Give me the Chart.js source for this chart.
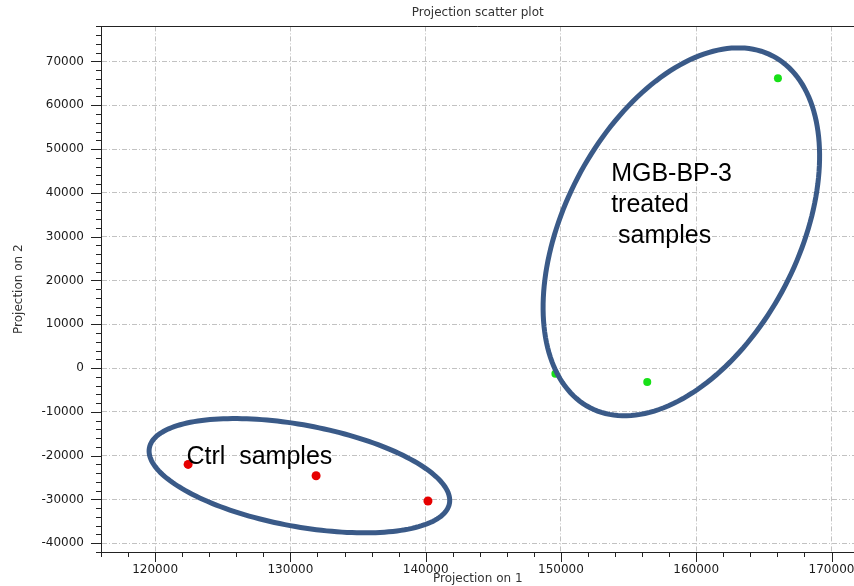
<!DOCTYPE html>
<html>
<head>
<meta charset="utf-8">
<script src="https://cdn.jsdelivr.net/npm/chart.js@4.4.0/dist/chart.umd.min.js"></script>
<style>
html, body { margin: 0; padding: 0; background: #fff; overflow: hidden; }
canvas { display: block; }
</style>
</head>
<body>
<!-- 5px wider than the window: chart.js keeps a 5px strip on the right, this pushes it out of view -->
<canvas id="canvas" width="859" height="586"></canvas>
<script>
// sample positions
const ctrlX = [122440, 131900, 140170]
const ctrlY = [-22000, -24580, -30350]
const treatedX = [166040, 149590, 156380]
const treatedY = [66180, -1300, -3200]

const xTickLabels = [120000, 130000, 140000, 150000, 160000, 170000]
const yTickLabels = [-40000, -30000, -20000, -10000, 0, 10000, 20000, 30000, 40000, 50000, 60000, 70000]

// hand drawn group rings, in data units: centre + two conjugate half axes
const groupNames = [['Ctrl  samples'], ['MGB-BP-3', 'treated', ' samples']]
const groupCenters = [[130666, -24580], [158900, 31100]]
const groupAxisA = [[11090, -6345], [6745, 40165]]
const groupAxisB = [[-686, -11400], [7678, -12278]]
const groupTextAt = [[122315, -21840], [153713, 42810]]

const X_MIN = 116000, X_MAX = 171700
const Y_MIN = -42000, Y_MAX = 78000
const MINOR = 2000

// one tick every 2000, labels only on the major ones
const minorTicks = (scale) => {
    const ticks = []
    for (let v = Math.ceil(scale.min / MINOR) * MINOR; v <= scale.max; v += MINOR) ticks.push({value: v})
    if (ticks[ticks.length - 1].value !== scale.max) ticks.push({value: scale.max})
    scale.ticks = ticks
}

const annotate = {
    id: 'annotate',
    afterDatasetsDraw(chart) {
        const {ctx, scales: {x, y}} = chart
        ctx.save()
        ctx.strokeStyle = '#3a5a88'
        ctx.lineWidth = 5
        groupCenters.forEach((c, i) => {
            ctx.beginPath()
            for (let k = 0; k <= 180; k++) {
                const t = k / 180 * Math.PI * 2
                const vx = c[0] + Math.cos(t) * groupAxisA[i][0] + Math.sin(t) * groupAxisB[i][0]
                const vy = c[1] + Math.cos(t) * groupAxisA[i][1] + Math.sin(t) * groupAxisB[i][1]
                const px = x.getPixelForValue(vx)
                const py = y.getPixelForValue(vy)
                if (k === 0) ctx.moveTo(px, py)
                else ctx.lineTo(px, py)
            }
            ctx.closePath()
            ctx.stroke()
        })
        ctx.fillStyle = '#000'
        ctx.font = '25px "Liberation Sans", Arial, sans-serif'
        ctx.textBaseline = 'alphabetic'
        ctx.textAlign = 'left'
        groupNames.forEach((lines, i) => {
            const px = x.getPixelForValue(groupTextAt[i][0])
            const py = y.getPixelForValue(groupTextAt[i][1])
            lines.forEach((line, j) => ctx.fillText(line, px, py + j * 31))
        })
        ctx.restore()
    },
    afterDraw(chart) {
        // top frame line + tick marks (long on labelled values, short otherwise)
        const {ctx, chartArea: a, scales: {x, y}} = chart
        ctx.save()
        ctx.strokeStyle = '#222'
        ctx.lineWidth = 1
        ctx.beginPath()
        ctx.moveTo(a.left, Math.round(a.top) + 0.5)
        ctx.lineTo(a.right, Math.round(a.top) + 0.5)
        x.ticks.forEach(t => {
            if (t.value % MINOR) return
            const px = Math.round(x.getPixelForValue(t.value)) + 0.5
            ctx.moveTo(px, a.bottom)
            ctx.lineTo(px, a.bottom + (xTickLabels.includes(t.value) ? 10 : 5))
        })
        y.ticks.forEach(t => {
            if (t.value % MINOR) return
            const py = Math.round(y.getPixelForValue(t.value)) + 0.5
            ctx.moveTo(a.left, py)
            ctx.lineTo(a.left - (yTickLabels.includes(t.value) ? 10 : 5), py)
        })
        ctx.stroke()
        ctx.restore()
    }
}

const gridColor = (list) => (c) => list.includes(c.tick.value) ? '#c2c2c2' : 'rgba(0,0,0,0)'

new Chart(document.getElementById('canvas'), {
    type: 'scatter',
    data: {
        datasets: [
            {
                label: 'Ctrl',
                data: ctrlX.map((v, i) => ({x: v, y: ctrlY[i]})),
                backgroundColor: '#e60000',
                borderWidth: 0,
                pointRadius: 4.5
            },
            {
                label: 'MGB-BP-3',
                data: treatedX.map((v, i) => ({x: v, y: treatedY[i]})),
                backgroundColor: '#18e018',
                borderWidth: 0,
                pointRadius: 4
            }
        ]
    },
    options: {
        responsive: false,
        animation: false,
        layout: {padding: 0},
        plugins: {
            legend: {display: false},
            tooltip: {enabled: false},
            title: {
                display: true,
                text: 'Projection scatter plot',
                fullSize: false,
                color: '#333',
                font: {family: '"DejaVu Sans"', size: 12, weight: 'normal'},
                padding: {top: 6, bottom: 6}
            }
        },
        scales: {
            x: {
                type: 'linear',
                min: X_MIN,
                max: X_MAX,
                afterBuildTicks: minorTicks,
                afterFit: (s) => { s.height = 34; s.paddingLeft = 0; s.paddingRight = 0 },
                ticks: {
                    autoSkip: false,
                    maxRotation: 0,
                    padding: 0,
                    color: '#1a1a1a',
                    font: {family: '"DejaVu Sans"', size: 12},
                    callback: (v) => xTickLabels.includes(v) ? String(v) : ''
                },
                grid: {color: gridColor(xTickLabels), tickColor: 'rgba(0,0,0,0)', tickLength: 11},
                border: {color: '#222', dash: [5, 2, 1, 2]},
                title: {
                    display: true,
                    text: 'Projection on 1',
                    color: '#333',
                    font: {family: '"DejaVu Sans"', size: 12},
                    padding: {top: 0, bottom: 0}
                }
            },
            y: {
                type: 'linear',
                min: Y_MIN,
                max: Y_MAX,
                afterBuildTicks: minorTicks,
                afterFit: (s) => { s.width = 101 },
                ticks: {
                    autoSkip: false,
                    padding: 0,
                    color: '#1a1a1a',
                    font: {family: '"DejaVu Sans"', size: 12},
                    callback: (v) => yTickLabels.includes(v) ? String(v) : ''
                },
                grid: {color: gridColor(yTickLabels), tickColor: 'rgba(0,0,0,0)', tickLength: 17},
                border: {color: '#222', dash: [5, 2, 1, 2]},
                title: {
                    display: true,
                    text: 'Projection on 2',
                    color: '#333',
                    font: {family: '"DejaVu Sans"', size: 12},
                    padding: {top: 12, bottom: 0}
                }
            }
        }
    },
    plugins: [annotate]
})
</script>
</body>
</html>
